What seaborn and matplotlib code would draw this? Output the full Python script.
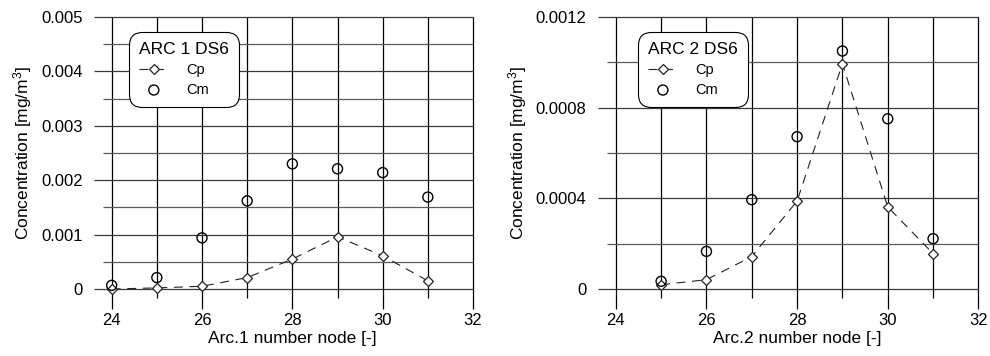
import matplotlib
matplotlib.use("Agg")
import matplotlib.pyplot as plt
from matplotlib.ticker import MultipleLocator, FuncFormatter
import seaborn as sns
import pandas as pd

# Arc 1 (DS6) concentrations per node
arc1_nodes = [24, 25, 26, 27, 28, 29, 30, 31]
arc1_cp = [0.0, 0.00002, 0.00005, 0.00021, 0.00055, 0.00096, 0.00061, 0.00015]
arc1_cm = [0.000067, 0.00021, 0.00094, 0.00162, 0.0023, 0.00221, 0.00214, 0.00169]

# Arc 2 (DS6) concentrations per node
arc2_nodes = [25, 26, 27, 28, 29, 30, 31]
arc2_cp = [0.000019, 0.000041, 0.000143, 0.000388, 0.000994, 0.000362, 0.000156]
arc2_cm = [0.000034, 0.000166, 0.000394, 0.000672, 0.00105, 0.000751, 0.000222]

sns.set_theme(style="white")
plt.rcParams["font.family"] = ["Liberation Sans", "DejaVu Sans"]
plt.rcParams["mathtext.fontset"] = "custom"
plt.rcParams["mathtext.rm"] = "Liberation Sans"
plt.rcParams["mathtext.it"] = "Liberation Sans"
plt.rcParams["text.color"] = "black"
plt.rcParams["axes.labelcolor"] = "black"
plt.rcParams["xtick.labelcolor"] = "black"
plt.rcParams["ytick.labelcolor"] = "black"

fig = plt.figure(figsize=(9.9, 3.56), dpi=100)
ax1 = fig.add_axes([0.1128, 0.1882, 0.365, 0.764])
ax2 = fig.add_axes([0.622, 0.1882, 0.3663, 0.764])


def draw(ax, nodes, cp, cm, title, xlabel, ymax, ymajor, yfmt, legx):
    df = pd.DataFrame({"node": nodes, "Cp": cp, "Cm": cm})
    sns.lineplot(data=df, x="node", y="Cp", ax=ax, color="#222222",
                 linewidth=0.8, linestyle=(0, (8, 6)), marker="D",
                 markersize=5, markerfacecolor="white",
                 markeredgecolor="#222222", markeredgewidth=0.9,
                 label="Cp", zorder=3, clip_on=False)
    sns.scatterplot(data=df, x="node", y="Cm", ax=ax, marker="o", s=52,
                    facecolor="none", edgecolor="black", linewidth=1.0,
                    label="Cm", zorder=4, clip_on=False)

    ax.set_xlim(24, 32)
    ax.set_ylim(0, ymax)
    ax.xaxis.set_major_locator(MultipleLocator(2))
    ax.xaxis.set_minor_locator(MultipleLocator(1))
    ax.yaxis.set_major_locator(MultipleLocator(ymajor))
    ax.yaxis.set_minor_locator(MultipleLocator(ymajor / 2))
    ax.yaxis.set_major_formatter(FuncFormatter(yfmt))

    ax.set_axisbelow(True)
    ax.xaxis.grid(True, which="both", color="black", linewidth=0.9)
    ax.yaxis.grid(True, which="major", color="#3a3a3a", linewidth=0.9)
    ax.yaxis.grid(True, which="minor", color="#5a5a5a", linewidth=0.9)
    for s in ax.spines.values():
        s.set_visible(False)

    ax.tick_params(axis="x", which="major", direction="out", length=14.5,
                   width=0.9, color="black", pad=3, labelsize=12,
                   bottom=True)
    ax.tick_params(axis="x", which="minor", direction="out", length=6.5,
                   width=0.9, color="black", bottom=True)
    ax.tick_params(axis="y", which="major", direction="out", length=13,
                   width=0.9, color="#3a3a3a", pad=8, labelsize=12,
                   left=True)
    ax.tick_params(axis="y", which="minor", direction="out", length=6.5,
                   width=0.9, color="#5a5a5a", left=True)

    ax.set_xlabel(xlabel, fontsize=12.5, labelpad=2)
    ax.set_ylabel("Concentration [mg/m$^3$]", fontsize=12.5, labelpad=5)

    leg = ax.legend(title=title, loc="upper left",
                    bbox_to_anchor=(legx, 0.945), borderaxespad=0,
                    frameon=True, fancybox=True, fontsize=10.5,
                    title_fontsize=12.5, handlelength=2.0,
                    handletextpad=1.25, labelspacing=0.4, borderpad=0.7,
                    framealpha=1)
    frame = leg.get_frame()
    frame.set_edgecolor("black")
    frame.set_linewidth(0.8)
    frame.set_boxstyle("round,pad=0,rounding_size=0.9")
    leg._legend_box.align = "left"

    # keep the boundary grid lines fully visible
    for gl in ax.get_xgridlines() + ax.get_ygridlines():
        gl.set_clip_on(False)


def fmt1(v, pos):
    return "0" if abs(v) < 1e-12 else f"{v:.3f}"


def fmt2(v, pos):
    return "0" if abs(v) < 1e-12 else f"{v:.4f}"


draw(ax1, arc1_nodes, arc1_cp, arc1_cm, "ARC 1 DS6", "Arc.1 number node [-]",
     0.005, 0.001, fmt1, 0.048)
draw(ax2, arc2_nodes, arc2_cp, arc2_cm, "ARC 2 DS6", "Arc.2 number node [-]",
     0.0012, 0.0004, fmt2, 0.0615)

fig.savefig("out.png", dpi=100)
